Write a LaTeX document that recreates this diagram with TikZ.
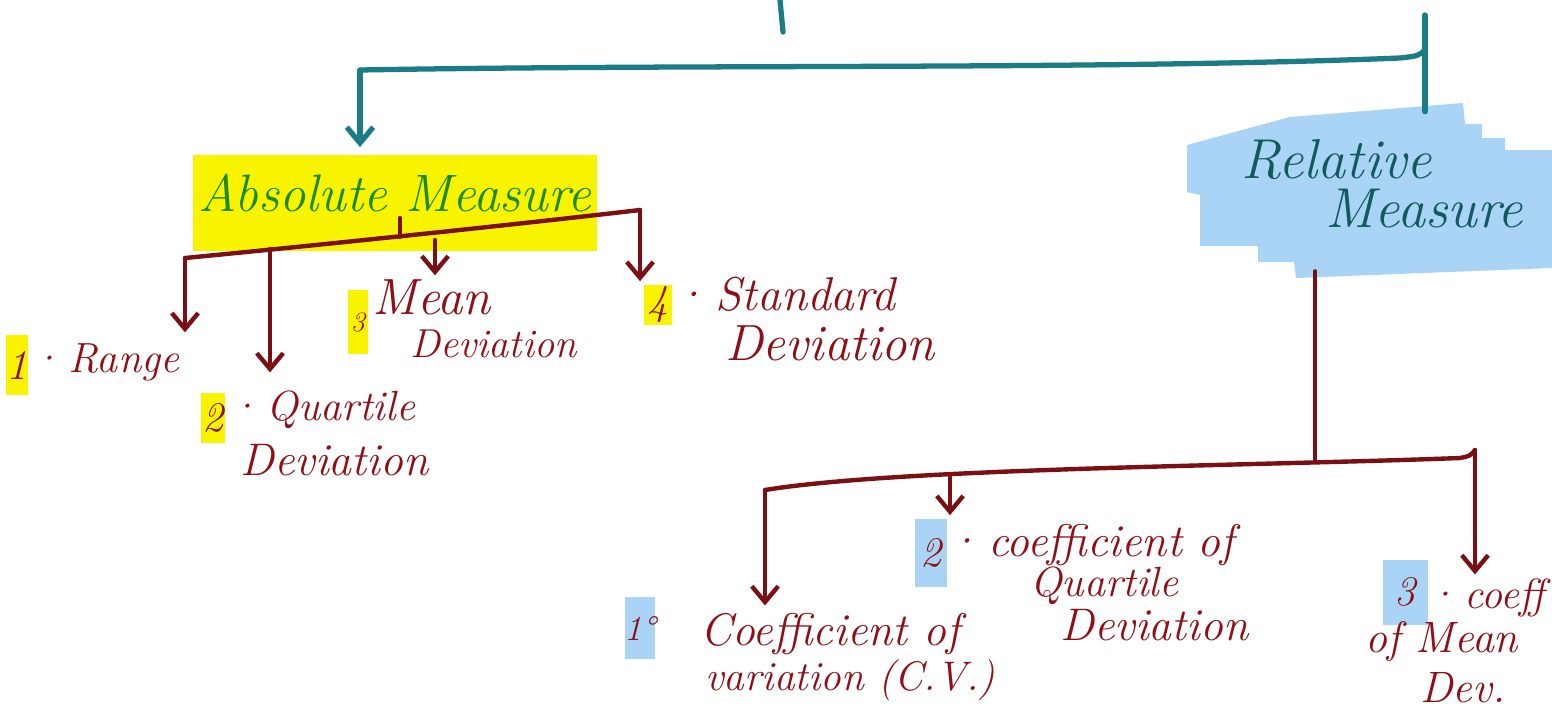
\documentclass[tikz,border=0pt]{standalone}
\usetikzlibrary{arrows.meta}
\definecolor{teal1}{HTML}{1A7C87}
\definecolor{brown1}{HTML}{7C0F14}
\definecolor{red1}{HTML}{8E0F16}
\definecolor{green1}{HTML}{1D8A23}
\definecolor{relink}{HTML}{115A5E}
\definecolor{yel}{HTML}{F8F400}
\definecolor{blu}{HTML}{AAD4F6}
\begin{document}
\begin{tikzpicture}[x=0.02cm,y=-0.02cm,
  tline/.style={draw=teal1,line width=3pt,line cap=round,line join=round},
  bline/.style={draw=brown1,line width=2.5pt,line cap=round,line join=round},
  tipped/.style={-{Straight Barb[length=9pt,width=15pt]}},
  lab/.style={text=red1,inner sep=0pt,anchor=base west,font=\fontsize{26}{28}\selectfont\itshape},
  ybox/.style={fill=yel,text=red1,inner sep=0pt,font=\fontsize{24}{26}\selectfont\itshape},
  bbox/.style={fill=blu,text=red1,inner sep=0pt,font=\fontsize{24}{26}\selectfont\itshape},
]
\fill[white] (0,0) rectangle (1552,717);
\useasboundingbox (0,0) rectangle (1552,717);

% ---------- top level ----------
\node[fill=yel,text=green1,inner sep=0pt,minimum width=8.08cm,minimum height=1.94cm,
      text height=21pt,text depth=11pt,
      font=\fontsize{30}{32}\selectfont\itshape] (abs) at (395,203) {Absolute Measure};

\fill[blu] (1187,145) -- (1290,117) -- (1463,103) -- (1465,124) -- (1482,124) -- (1482,138)
  -- (1505,138) -- (1505,150) -- (1552,150) -- (1552,268) -- (1296,278) -- (1294,262)
  -- (1258,262) -- (1258,246) -- (1200,246) -- (1200,195) -- (1187,192) -- cycle;
\node[text=relink,inner sep=0pt,minimum width=7.3cm,minimum height=3.48cm,align=left,
      font=\fontsize{32}{28}\selectfont\itshape] (rel) at (1369,184)
      {\hspace*{15pt}Relative\\\hspace*{63pt}Measure};

\coordinate (tTop) at (780,0);
\coordinate (tTopEnd) at (783,32);
\draw[tline] (tTop) -- (tTopEnd);

\coordinate (hL) at (360,70);
\coordinate (hR) at (1425,50);
\coordinate (rTop) at (1425,15);
\draw[tline] (hL) .. controls (700,64) and (1100,70) .. (1400,58) .. controls (1418,56) .. (hR);
\draw[tline] (rTop) -- ([yshift=-0.3cm]rTop |- rel.north);
\draw[tline,tipped,shorten >=4pt] (hL) -- (hL |- abs.north);

% ---------- absolute measure branch ----------
\coordinate (bL) at (185,258);
\coordinate (bR) at (640,210);
\coordinate (bTick) at (400,218);
\coordinate (bMid) at (400,237);
\coordinate (b2) at (270,249);
\coordinate (b3) at (435,240);
\draw[bline] (bL) .. controls (330,244) and (520,224) .. (bR);
\draw[bline] (bTick) -- (bMid);

\node[ybox,minimum width=0.32cm,minimum height=1.2cm] (n1) at (17,365) {1};
\node[lab,font=\fontsize{24}{26}\selectfont\itshape] (range) at (30,372) {·\,Range};
\node[ybox,minimum width=0.48cm,minimum height=1.0cm] (n2) at (213,418) {2};
\node[lab,font=\fontsize{24}{26}\selectfont\itshape] (quart) at (228,420) {·\,Quartile};
\node[lab] (qdev) at (240,475) {Deviation};
\node[ybox,minimum width=0.4cm,minimum height=1.3cm,font=\fontsize{16}{18}\selectfont\itshape] (n3) at (358,322) {3};
\node[lab,font=\fontsize{29}{30}\selectfont\itshape] (mean) at (372,314) {Mean};
\node[lab,font=\fontsize{23}{25}\selectfont\itshape] (mdev) at (410,357) {Deviation};
\node[ybox,minimum width=0.56cm,minimum height=0.8cm] (n4) at (658,305) {4};
\node[lab,font=\fontsize{27}{28}\selectfont\itshape] (std) at (672,310) {·\,Standard};
\node[lab,font=\fontsize{29}{30}\selectfont\itshape] (sdev) at (725,360) {Deviation};

\draw[bline,tipped,shorten >=6pt] (bL) -- (bL |- range.north);
\draw[bline,tipped,shorten >=10pt] (b2) -- (b2 |- quart.north);
\draw[bline,tipped,shorten >=2pt] (b3) -- (b3 |- mean.north);
\draw[bline,tipped,shorten >=2pt] (bR) -- (bR |- n4.north);

% ---------- relative measure branch ----------
\coordinate (rj) at (1315,462);
\coordinate (cL) at (765,490);
\coordinate (c2) at (950,477);
\coordinate (cR) at (1475,450);
\draw[bline] (rj |- rel.south) -- (rj);
\draw[bline] (cL) .. controls (900,468) and (1250,466) .. (1460,458) .. controls (1470,456) .. (cR);

\node[bbox,minimum width=0.48cm,minimum height=1.24cm,font=\fontsize{20}{22}\selectfont\itshape] (m1) at (640,628) {1°};
\node[lab] (c1a) at (700,645) {Coefficient of};
\node[lab,font=\fontsize{23.5}{25}\selectfont\itshape] (c1b) at (705,690) {variation (C.V.)};
\node[bbox,minimum width=0.64cm,minimum height=1.36cm] (m2) at (931,553) {2};
\node[lab] (c2a) at (946,556) {·\,coefficient of};
\node[lab,font=\fontsize{24}{26}\selectfont\itshape] (c2b) at (1030,596) {Quartile};
\node[lab] (c2c) at (1060,640) {Deviation};
\node[bbox,minimum width=0.9cm,minimum height=1.3cm] (m3) at (1405,592) {3};
\node[lab,font=\fontsize{24}{26}\selectfont\itshape] (c3a) at (1426,608) {·\,coeff};
\node[lab,font=\fontsize{25}{26}\selectfont\itshape] (c3b) at (1365,652) {of Mean};
\node[lab,font=\fontsize{25}{26}\selectfont\itshape] (c3c) at (1420,702) {Dev.};

\draw[bline,tipped,shorten >=4pt] (cL) -- (cL |- c1a.north);
\draw[bline,tipped,shorten >=2pt] (c2) -- (c2 |- m2.north);
\draw[bline,tipped,shorten >=2pt] (cR) -- (cR |- c3a.north);
\end{tikzpicture}
\end{document}
